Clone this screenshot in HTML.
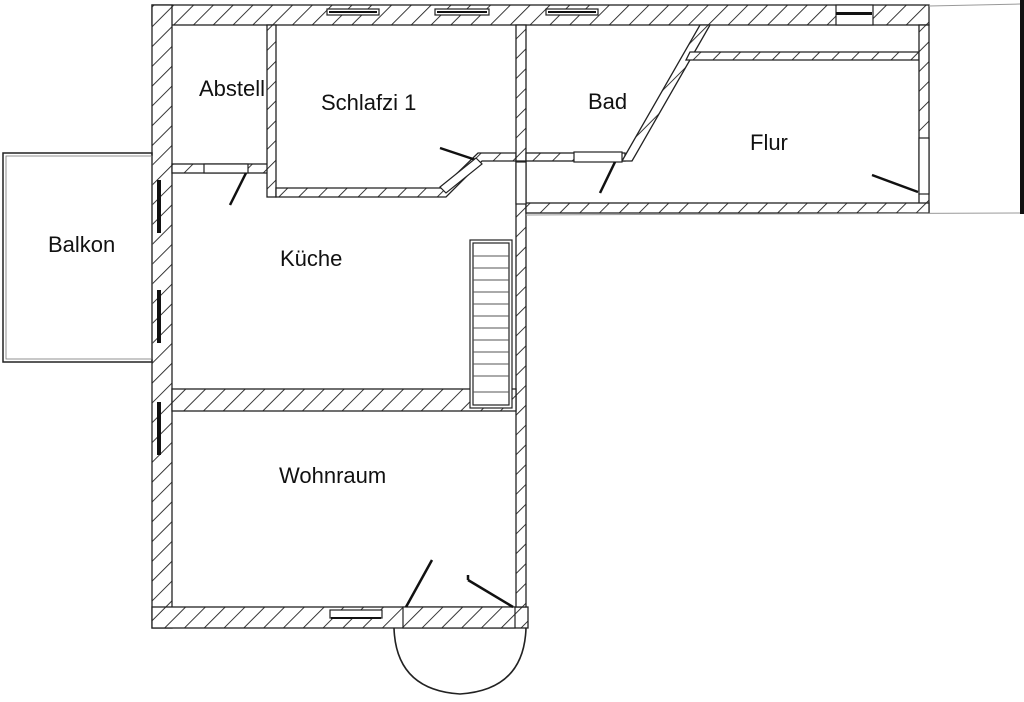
<!DOCTYPE html>
<html><head><meta charset="utf-8"><style>
html,body{margin:0;padding:0;background:#fff;width:1024px;height:702px;overflow:hidden}
svg{display:block}
text{font-family:"Liberation Sans",sans-serif;font-size:22px;fill:#111}
</style></head><body>
<svg width="1024" height="702" viewBox="0 0 1024 702">
<defs>
<pattern id="h" patternUnits="userSpaceOnUse" width="14" height="14" patternTransform="rotate(45)">
<rect width="14" height="14" fill="#fff"/>
<line x1="0" y1="0" x2="0" y2="14" stroke="#222" stroke-width="1.8"/>
</pattern>
</defs>
<g fill="url(#h)" stroke="#222" stroke-width="1.3">
<rect x="152" y="5" width="777" height="20"/>
<rect x="152" y="5" width="20" height="623"/>
<rect x="152" y="607" width="376" height="21"/>
<rect x="516" y="160" width="10" height="447"/>
<rect x="172" y="389" width="344" height="22"/>
<rect x="172" y="164" width="96" height="9"/>
<rect x="267" y="25" width="9" height="172"/>
<polygon points="276,188 442,188 478,153 516,153 516,161 482,161 446,197 276,197"/>
<rect x="516" y="25" width="10" height="136"/>
<rect x="526" y="153" width="99" height="8"/>
<polygon points="622,161 700,25 710,25 632,161"/>
<polygon points="690,52 919,52 919,60 686,60"/>
<rect x="919" y="25" width="10" height="188"/>
<rect x="526" y="203" width="403" height="10"/>
</g>
<g fill="#fff" stroke="#222" stroke-width="1.2">
<rect x="327" y="9" width="52" height="6"/>
<rect x="435" y="9" width="54" height="6"/>
<rect x="546" y="9" width="52" height="6"/>
<rect x="836" y="5" width="37" height="20"/>
<rect x="204" y="164" width="44" height="9"/>
<rect x="574" y="152" width="48" height="10"/>
<rect x="516" y="162" width="10" height="42"/>
<rect x="919" y="138" width="10" height="56"/>
<rect x="330" y="610" width="52" height="8"/>
<rect x="403" y="607" width="112" height="21" fill="url(#h)"/>
</g>
<g fill="#111">
<rect x="836" y="12" width="36" height="3"/>
<rect x="157" y="180" width="4" height="53"/>
<rect x="157" y="290" width="4" height="53"/>
<rect x="157" y="402" width="4" height="53"/>
<rect x="331" y="617" width="50" height="2"/>
<rect x="437" y="11" width="50" height="2"/>
<rect x="329" y="11" width="48" height="2"/>
<rect x="548" y="11" width="48" height="2"/>
</g>
<g stroke="#111" stroke-width="2.5" fill="none">
<line x1="246" y1="173" x2="230" y2="205"/>
<line x1="476" y1="160" x2="440" y2="148"/>
<line x1="615" y1="162" x2="600" y2="193"/>
<line x1="918" y1="192" x2="872" y2="175"/>
<line x1="406" y1="607" x2="432" y2="560"/>
<line x1="513" y1="607" x2="468" y2="580"/>
<line x1="468" y1="580" x2="468" y2="575"/>
</g>
<polygon points="440,187 476,158 482,164 446,193" fill="#fff" stroke="#222" stroke-width="1.2"/>
<g stroke="#222" stroke-width="1.2" fill="#fff">
<rect x="470" y="240" width="42" height="168"/>
<rect x="473" y="243" width="36" height="162"/>
</g>
<g stroke="#555" stroke-width="1">
<line x1="473" y1="256" x2="509" y2="256"/><line x1="473" y1="268" x2="509" y2="268"/>
<line x1="473" y1="280" x2="509" y2="280"/><line x1="473" y1="292" x2="509" y2="292"/>
<line x1="473" y1="304" x2="509" y2="304"/><line x1="473" y1="316" x2="509" y2="316"/>
<line x1="473" y1="328" x2="509" y2="328"/><line x1="473" y1="340" x2="509" y2="340"/>
<line x1="473" y1="352" x2="509" y2="352"/><line x1="473" y1="364" x2="509" y2="364"/>
<line x1="473" y1="376" x2="509" y2="376"/><line x1="473" y1="392" x2="509" y2="392"/>
</g>
<rect x="3" y="153" width="149" height="209" fill="none" stroke="#222" stroke-width="1.5"/>
<rect x="6" y="156" width="146" height="203" fill="none" stroke="#777" stroke-width="0.8"/>
<path d="M394,628 Q396,690 460,694 Q524,690 526,628" fill="none" stroke="#222" stroke-width="1.6"/>
<rect x="1020" y="0" width="4" height="214" fill="#111"/>
<line x1="526" y1="215" x2="1020" y2="213" stroke="#999" stroke-width="1"/>
<line x1="929" y1="6" x2="1020" y2="4" stroke="#999" stroke-width="1"/>
<text x="199" y="96">Abstell</text>
<text x="321" y="110">Schlafzi 1</text>
<text x="588" y="109">Bad</text>
<text x="750" y="150">Flur</text>
<text x="48" y="252">Balkon</text>
<text x="280" y="266">Küche</text>
<text x="279" y="483">Wohnraum</text>
</svg>
</body></html>
